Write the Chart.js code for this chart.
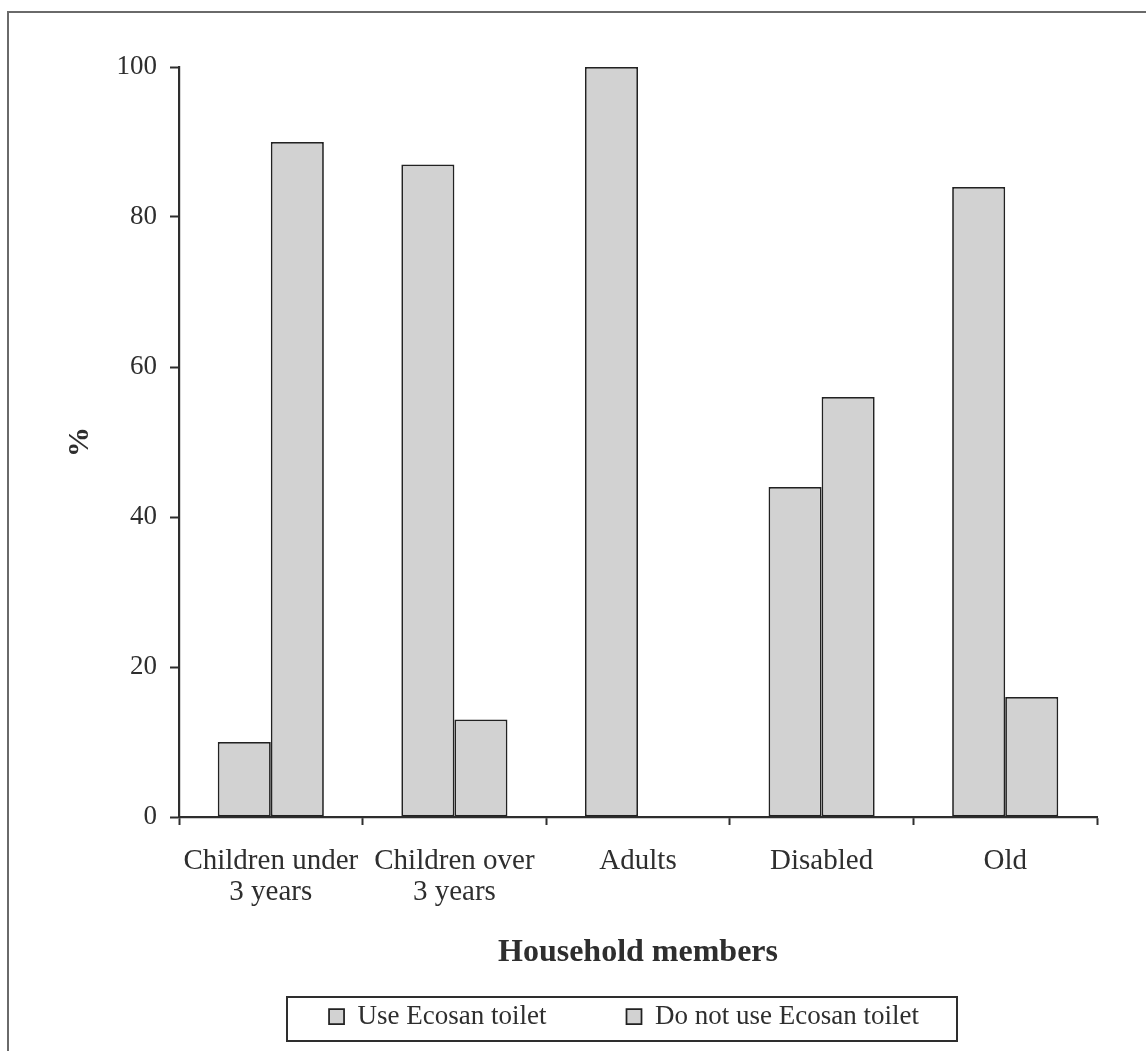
<!DOCTYPE html>
<html>
<head>
<meta charset="utf-8">
<title>Household members using the Ecosan toilet</title>
<script src="https://cdn.jsdelivr.net/npm/chart.js@4.4.1/dist/chart.umd.min.js"></script>
<style>
  html, body { margin: 0; padding: 0; background: #ffffff; }
  canvas { display: block; }
</style>
</head>
<body>
<canvas id="chart" width="1146" height="1051"></canvas>
<script>
// Household members (x categories)
const categories = [
  ['Children under', '3 years'],
  ['Children over', '3 years'],
  'Adults',
  'Disabled',
  'Old'
];

// Series names
const seriesNames = ['Use Ecosan toilet', 'Do not use Ecosan toilet'];

// Share of each group, in %
const useEcosan    = [10, 87, 100, 44, 84];
const notUseEcosan = [90, 13,   0, 56, 16];

// Value axis range
const yAxisMin = 0;
const yAxisMax = 100;
const yAxisStep = 20;

const SERIF = '"Liberation Serif", "Times New Roman", serif';
const INK = '#2e2e2e';
const BAR_FILL = '#d2d2d2';
const BAR_EDGE = '#222222';

// White page with the figure frame along the top and left edges
const pageFrame = {
  id: 'pageFrame',
  beforeDraw(chart) {
    const c = chart.ctx;
    c.save();
    c.fillStyle = '#ffffff';
    c.fillRect(0, 0, chart.width, chart.height);
    c.strokeStyle = '#6a6a6a';
    c.lineWidth = 2;
    c.strokeRect(8, 12, chart.width + 40, chart.height + 40);
    c.restore();
  }
};

// Legend: wide spacing between entries, drawn inside a bordered box
const LEGEND_GAP = 80;
const LEGEND_INSET = 6;
const LEGEND_SHIFT_X = -14;
const legendBox = {
  id: 'legendBox',
  beforeDraw(chart) {
    const lg = chart.legend;
    if (!lg) return;
    lg._home = { top: lg.top, left: lg.left, right: lg.right };
    lg.top -= LEGEND_GAP - LEGEND_INSET;
    lg.left += LEGEND_SHIFT_X;
    lg.right += LEGEND_SHIFT_X;
  },
  afterDraw(chart) {
    const lg = chart.legend;
    if (!lg || !lg._home) return;
    const home = lg._home;
    lg.top = home.top;
    lg.left = home.left;
    lg.right = home.right;
    const cx = (home.left + home.right) / 2 - 12;
    const c = chart.ctx;
    c.save();
    c.strokeStyle = INK;
    c.lineWidth = 2;
    c.strokeRect(cx - 339, home.top, 670, lg.height);
    c.restore();
  }
};

const chart = new Chart(document.getElementById('chart'), {
  type: 'bar',
  data: {
    labels: categories,
    datasets: [
      {
        label: seriesNames[0],
        data: useEcosan,
        backgroundColor: BAR_FILL,
        borderColor: BAR_EDGE,
        borderWidth: 1.75,
        borderSkipped: false
      },
      {
        label: seriesNames[1],
        data: notUseEcosan,
        backgroundColor: BAR_FILL,
        borderColor: BAR_EDGE,
        borderWidth: 1.75,
        borderSkipped: false
      }
    ]
  },
  options: {
    responsive: false,
    animation: false,
    devicePixelRatio: 1,
    layout: { padding: { left: 10, right: 49, top: 67, bottom: 10 } },
    datasets: {
      bar: { categoryPercentage: 0.578, barPercentage: 1.0 }
    },
    plugins: {
      tooltip: { enabled: false },
      title: { display: false },
      legend: {
        display: true,
        position: 'bottom',
        align: 'center',
        fullSize: false,
        maxHeight: 44,
        labels: {
          color: INK,
          font: { family: SERIF, size: 27 },
          boxWidth: 15,
          boxHeight: 15,
          padding: LEGEND_GAP
        }
      }
    },
    scales: {
      x: {
        type: 'category',
        offset: true,
        afterFit(scale) { scale.height = 180; },
        grid: {
          offset: true,
          drawOnChartArea: false,
          drawTicks: true,
          tickLength: 8,
          tickColor: INK,
          tickWidth: 2
        },
        border: { display: true, color: INK, width: 2.2 },
        ticks: {
          color: INK,
          font: { family: SERIF, size: 29, lineHeight: 1.1 },
          padding: 20,
          autoSkip: false,
          maxRotation: 0,
          minRotation: 0
        },
        title: {
          display: true,
          text: 'Household members',
          color: INK,
          font: { family: SERIF, size: 32, weight: 'bold', lineHeight: 1.2 },
          padding: { top: 0, bottom: 25 }
        }
      },
      y: {
        min: yAxisMin,
        max: yAxisMax,
        afterFit(scale) { scale.width = 169; },
        grid: {
          drawOnChartArea: false,
          drawTicks: true,
          tickLength: 9,
          tickColor: INK,
          tickWidth: 2
        },
        border: { display: true, color: INK, width: 2.2 },
        ticks: {
          stepSize: yAxisStep,
          color: INK,
          font: { family: SERIF, size: 27 },
          padding: 13
        },
        title: {
          display: true,
          text: '%',
          color: INK,
          font: { family: SERIF, size: 30, weight: 'bold', lineHeight: 1.2 },
          padding: { top: 52, bottom: 0 }
        }
      }
    }
  },
  plugins: [pageFrame, legendBox]
});
</script>
</body>
</html>
